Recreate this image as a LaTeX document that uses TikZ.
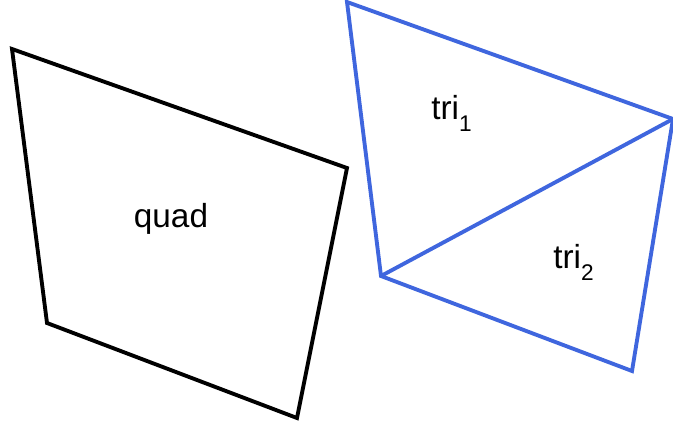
\documentclass[tikz,border=0pt]{standalone}
\usepackage{fontspec}
\setmainfont{Liberation Sans}
\definecolor{triblue}{HTML}{3F66DE}
\newcommand{\lowsub}[1]{\raisebox{-9pt}{\fontsize{17}{20}\selectfont #1}}
\begin{document}
\begin{tikzpicture}[x=0.75pt,y=-0.75pt,
  edge/.style={line width=2.9pt,line join=miter},
  lbl/.style={font=\fontsize{25}{30}\selectfont,inner sep=0pt}]
\useasboundingbox (0,0) rectangle (673,425);
\coordinate (q1) at (12,49);
\coordinate (q2) at (347,168);
\coordinate (q3) at (297,418);
\coordinate (q4) at (47,323);
\coordinate (t1) at (347,2);
\coordinate (t2) at (673,119);
\coordinate (t3) at (632,371);
\coordinate (t4) at (381,276);
\draw[edge,black] (q1) -- (q2) -- (q3) -- (q4) -- cycle;
\draw[edge,triblue] (t1) -- (t2) -- (t3) -- (t4) -- cycle;
\draw[edge,triblue] (t4) -- (t2);
\node[lbl,anchor=base] (quad) at (171,227) {quad};
\node[lbl,anchor=base west] (tri1) at (431,119) {tri\lowsub{1}};
\node[lbl,anchor=base west] (tri2) at (553,268) {tri\lowsub{2}};
\end{tikzpicture}
\end{document}
